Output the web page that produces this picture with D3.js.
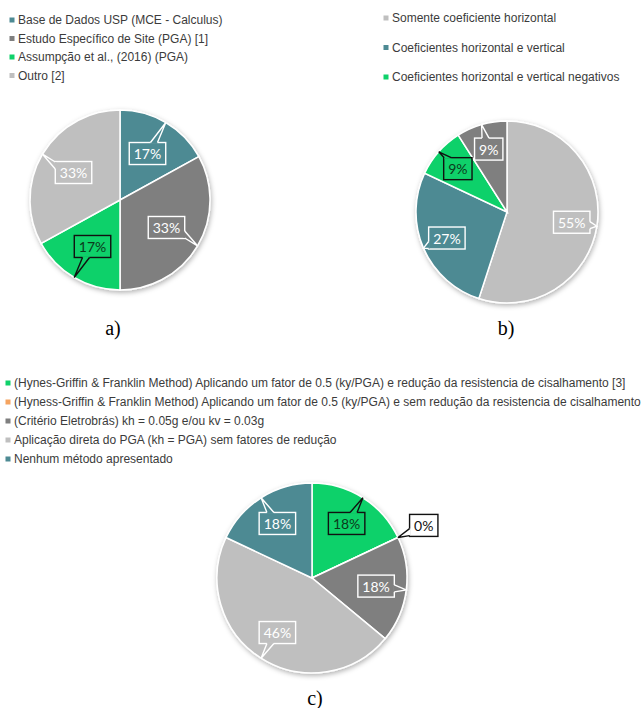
<!DOCTYPE html>
<html>
<head>
<meta charset="utf-8">
<script src="https://cdn.jsdelivr.net/npm/d3@7"></script>
<style>
  body { margin: 0; background: #fff; }
  svg { display: block; }
</style>
</head>
<body>
<svg id="chart" width="641" height="708"></svg>
<script>
// Colours used by the three pies
const TEAL = "#4d8a93", DGRAY = "#7f7f7f", GREEN = "#0fd16a", LGRAY = "#bfbfbf", ORANGE = "#f5a460";

// a) data (clockwise from 12 o'clock)
const catsA = ["Base de Dados USP (MCE - Calculus)", "Estudo Específico de Site (PGA) [1]", "Assumpção et al., (2016) (PGA)", "Outro [2]"];
const valsA = [17, 33, 17, 33];
const colsA = [TEAL, DGRAY, GREEN, LGRAY];

// b) data - the dark grey slice has no legend entry
const catsB = ["Somente coeficiente horizontal", "Coeficientes horizontal e vertical", "Coeficientes horizontal e vertical negativos", null];
const valsB = [55, 27, 9, 9];
const colsB = [LGRAY, TEAL, GREEN, DGRAY];

// c) data
const catsC = [
  "(Hynes-Griffin & Franklin Method) Aplicando um fator de 0.5 (ky/PGA) e redução da resistencia de cisalhamento [3]",
  "(Hyness-Griffin & Franklin Method) Aplicando um fator de 0.5 (ky/PGA) e sem redução da resistencia de cisalhamento",
  "(Critério Eletrobrás) kh = 0.05g e/ou kv = 0.03g",
  "Aplicação direta do PGA (kh = PGA) sem fatores de redução",
  "Nenhum  método apresentado"
];
const valsC = [18, 0, 18, 46, 18];
const colsC = [GREEN, ORANGE, DGRAY, LGRAY, TEAL];

const svg = d3.select("#chart");

const defs = svg.append("defs");
defs.append("filter").attr("id", "shadow")
    .attr("x", "-20%").attr("y", "-20%").attr("width", "140%").attr("height", "140%")
  .append("feDropShadow")
    .attr("dx", 1).attr("dy", 2).attr("stdDeviation", 2.5)
    .attr("flood-color", "#000").attr("flood-opacity", 0.3);

// one pie with Excel-like callout labels
function drawPie(vals, cols, cx, cy, r, labelK) {
  const g = svg.append("g").attr("transform", `translate(${cx},${cy})`);
  const arcs = d3.pie().sort(null).value(d => d)(vals);
  const arc = d3.arc().innerRadius(0).outerRadius(r);

  g.append("g").attr("filter", "url(#shadow)")
    .selectAll("path")
    .data(arcs)
    .join("path")
    .attr("d", arc)
    .attr("fill", (d, i) => cols[i])
    .attr("stroke", "#fff")
    .attr("stroke-width", 1.5);

  arcs.forEach((d, i) => {
    const mid = (d.startAngle + d.endAngle) / 2;
    const zero = d.value === 0;
    const dark = cols[i] === GREEN;
    const k = zero ? 1.3 : labelK;
    const bx = Math.sin(mid) * r * k, by = -Math.cos(mid) * r * k;
    const tx = Math.sin(mid) * r, ty = -Math.cos(mid) * r;
    const stroke = zero || dark ? "#111" : "#fff";
    const fill = zero ? "#fff" : cols[i];
    const txtCol = zero ? "#111" : dark ? "#0b3b1c" : "#fff";

    const lg = g.append("g");
    const txt = lg.append("text")
      .attr("x", bx).attr("y", by)
      .attr("text-anchor", "middle")
      .attr("dominant-baseline", "central")
      .style("font", "14px Lato, 'Open Sans', sans-serif")
      .attr("fill", txtCol)
      .text(d.value + "%");
    const w = txt.node().getComputedTextLength() + 9, h = 22;
    const hw = w / 2, hh = h / 2;

    lg.insert("rect", "text")
      .attr("x", bx - hw).attr("y", by - hh)
      .attr("width", w).attr("height", h)
      .attr("fill", fill)
      .attr("stroke", stroke).attr("stroke-width", 1.4);

    // tail from the box edge to the arc midpoint
    const dx = tx - bx, dy = ty - by;
    const sx = Math.abs(dx) > 1e-6 ? hw / Math.abs(dx) : Infinity;
    const sy = Math.abs(dy) > 1e-6 ? hh / Math.abs(dy) : Infinity;
    let b1, b2, i1, i2;
    if (sx < sy) {
      const ex = bx + Math.sign(dx) * hw;
      let py = by + dy * sx;
      py = Math.max(by - hh + 4, Math.min(by + hh - 4, py));
      b1 = [ex, py - 3.5]; b2 = [ex, py + 3.5];
      i1 = [ex - Math.sign(dx) * 1.2, py - 3.5]; i2 = [ex - Math.sign(dx) * 1.2, py + 3.5];
    } else {
      const ey = by + Math.sign(dy) * hh;
      let px = bx + dx * sy;
      px = Math.max(bx - hw + 4, Math.min(bx + hw - 4, px));
      b1 = [px - 3.5, ey]; b2 = [px + 3.5, ey];
      i1 = [px - 3.5, ey - Math.sign(dy) * 1.2]; i2 = [px + 3.5, ey - Math.sign(dy) * 1.2];
    }
    lg.insert("path", "text")
      .attr("d", d3.line()([i1, b1, [tx, ty], b2, i2]) + "Z")
      .attr("fill", fill);
    lg.insert("path", "text")
      .attr("d", d3.line()([b1, [tx, ty], b2]))
      .attr("fill", "none")
      .attr("stroke", stroke).attr("stroke-width", 1.4);
  });
}

function drawLegend(cats, cols, x, y0, step, fontSize) {
  const items = cats.map((c, i) => ({ c, col: cols[i] })).filter(d => d.c !== null);
  const g = svg.append("g");
  const row = g.selectAll("g")
    .data(items)
    .join("g")
    .attr("transform", (d, i) => `translate(${x},${y0 + i * step})`);
  row.append("rect")
    .attr("x", -2.5).attr("y", -2.5)
    .attr("width", 5).attr("height", 5)
    .attr("fill", d => d.col);
  row.append("text")
    .attr("x", 6)
    .attr("dominant-baseline", "central")
    .style("font", `${fontSize}px 'Liberation Sans', Arial, sans-serif`)
    .attr("fill", "#3b3b3b")
    .text(d => d.c);
}

function caption(t, x, y) {
  svg.append("text")
    .attr("x", x).attr("y", y)
    .attr("text-anchor", "middle")
    .style("font", "20px 'Liberation Serif', 'Times New Roman', serif")
    .attr("fill", "#000")
    .text(t);
}

drawLegend(catsA, colsA, 12, 20, 18.5, 12);
drawLegend(catsB, colsB, 386, 18, 29.5, 12);
drawLegend(catsC, colsC, 8, 383, 19, 12);

drawPie(valsA, colsA, 120, 200, 90, 0.6);
drawPie(valsB, colsB, 507, 212, 91, 0.72);
drawPie(valsC, colsC, 312, 578, 95, 0.68);

caption("a)", 113, 335);
caption("b)", 506, 335);
caption("c)", 315, 705);
</script>
</body>
</html>
